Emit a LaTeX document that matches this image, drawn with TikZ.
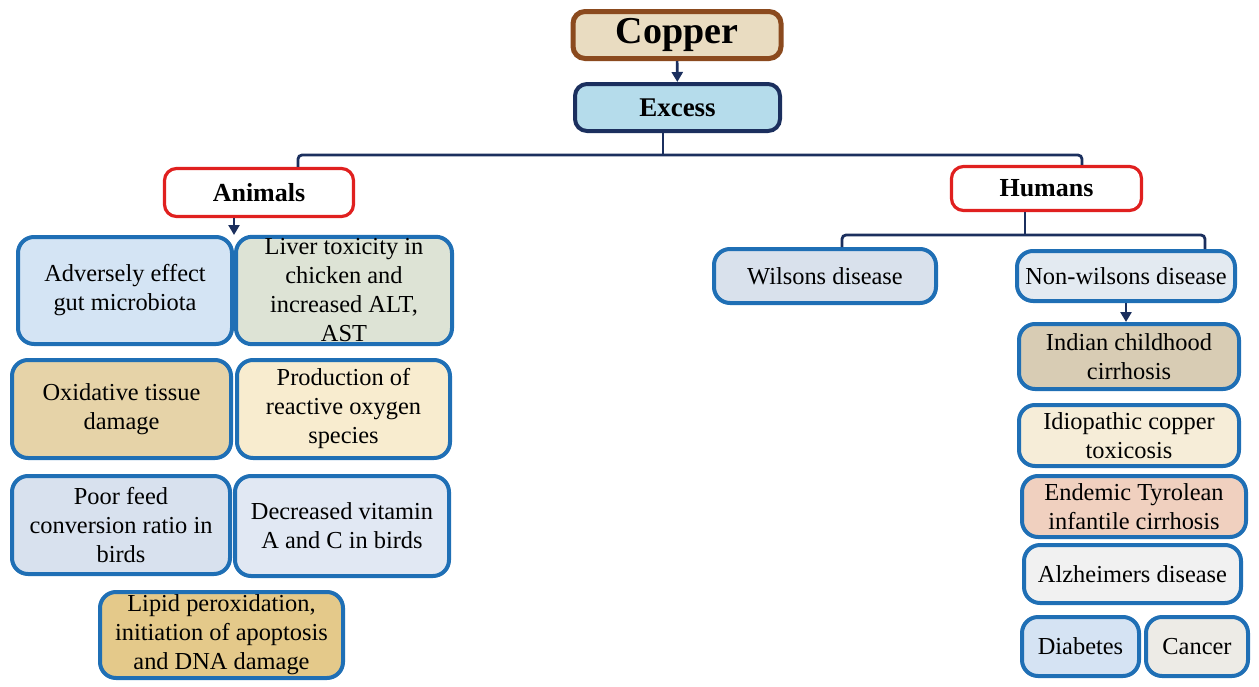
\documentclass[tikz,border=0pt]{standalone}
\usepackage{fontspec}
\setmainfont{Liberation Serif}
\usepackage{tikz}
\usetikzlibrary{arrows.meta, calc, positioning}
\definecolor{navy}{HTML}{1B2F5E}
\definecolor{boxblue}{HTML}{1F6FB5}
\definecolor{boxred}{HTML}{E0201F}
\definecolor{boxbrown}{HTML}{8B4A1E}
\tikzset{
    effect/.style={draw=boxblue, line width=2pt, rounded corners=8pt, align=center,
        inner sep=1pt, font=\fontsize{12.2}{14.5}\selectfont},
    group/.style={draw=boxred, line width=1.6pt, fill=white, rounded corners=6pt,
        font=\fontsize{13}{15}\selectfont\bfseries},
    link/.style={draw=navy, line width=1.4pt, rounded corners=2pt},
    arr/.style={draw=navy, line width=1.3pt, -{Triangle[length=5pt, width=5.5pt]}}
}
% box at pixel centre with pixel size
\newcommand{\effectbox}[6]{
    \node[effect, fill=#4, minimum width=#5*0.5pt-2pt, minimum height=#6*0.5pt-2pt] (#1) at (#2) {#3};
}

\begin{document}
\begin{tikzpicture}[x=0.5pt, y=-0.5pt]
                        \useasboundingbox (0,0) rectangle (1259,686);
                        % top of the tree
                        \node[draw=boxbrown, line width=2.5pt, fill={rgb,255:red,233;green,220;blue,193},
                            rounded corners=6pt, minimum width=104pt, minimum height=23.5pt,
                            font=\fontsize{19}{22}\selectfont\bfseries] (copper) at (677,35) {Copper};
                        \node[draw=navy, line width=2pt, fill={rgb,255:red,181;green,220;blue,235},
                            rounded corners=6pt, minimum width=102.5pt, minimum height=23.5pt,
                            font=\fontsize{13.5}{16}\selectfont\bfseries] (excess) at (677.5,107.5) {Excess};
                        \node[group, minimum width=94.5pt, minimum height=24pt] (animals) at (259,192.5) {Animals};
                        \node[group, minimum width=95pt, minimum height=22pt] (humans) at (1046.5,188.5) {Humans};
                        % animals
                        \effectbox{gut}{125,290.5}{Adversely effect\\gut microbiota}{{rgb,255:red,212;green,228;blue,244}}{218}{111}
                        \effectbox{liver}{344,290.5}{Liver toxicity in\\chicken and\\increased ALT,\\AST}{{rgb,255:red,221;green,227;blue,213}}{220}{111}
                        \effectbox{oxid}{121.5,409}{Oxidative tissue\\damage}{{rgb,255:red,230;green,211;blue,168}}{223}{102}
                        \effectbox{ros}{343.5,409}{Production of\\reactive oxygen\\species}{{rgb,255:red,248;green,236;blue,207}}{217}{102}
                        \effectbox{feed}{121,525}{Poor feed\\conversion ratio in\\birds}{{rgb,255:red,216;green,225;blue,238}}{222}{102}
                        \effectbox{vitamin}{342,526}{Decreased vitamin\\A and C in birds}{{rgb,255:red,225;green,232;blue,243}}{218}{104}
                        \effectbox{lipid}{221.5,635}{Lipid peroxidation,\\initiation of apoptosis\\and DNA damage}{{rgb,255:red,228;green,201;blue,138}}{247}{90}
                        % humans
                        \effectbox{wilson}{825,276}{Wilsons disease}{{rgb,255:red,217;green,225;blue,236}}{226}{58}
                        \effectbox{nonwilson}{1126,276}{Non-wilsons disease}{{rgb,255:red,227;green,234;blue,241}}{222}{54}
                        \effectbox{indian}{1129,356.5}{Indian childhood\\cirrhosis}{{rgb,255:red,216;green,204;blue,180}}{224}{69}
                        \effectbox{idio}{1129,435.5}{Idiopathic copper\\toxicosis}{{rgb,255:red,246;green,237;blue,216}}{224}{65}
                        \effectbox{tyrol}{1134,506.5}{Endemic Tyrolean\\infantile cirrhosis}{{rgb,255:red,240;green,208;blue,191}}{228}{65}
                        \effectbox{alz}{1132.5,574}{Alzheimers disease}{{rgb,255:red,241;green,241;blue,241}}{221}{62}
                        \effectbox{diab}{1080.5,646.5}{Diabetes}{{rgb,255:red,213;green,227;blue,243}}{121}{63}
                        \effectbox{cancer}{1197,646.5}{Cancer}{{rgb,255:red,237;green,235;blue,230}}{106}{63}
                        % connectors
                        \coordinate (split) at (663,155);
                        \coordinate (toanimals) at (298,155);
                        \coordinate (tohumans) at (1082,155);
                        \coordinate (hsplit) at (1025,235);
                        \coordinate (towilson) at (842,235);
                        \coordinate (tononwilson) at (1205,235);
                        \draw[arr] (copper) -- (excess);
                        \draw[link] (excess.south -| split) -- (split);
                        \draw[link] (toanimals |- animals.north) -- (toanimals) -- (tohumans) -- (tohumans |- humans.north);
                        \draw[link] (humans.south -| hsplit) -- (hsplit);
                        \draw[link] (towilson |- wilson.north) -- (towilson) -- (tononwilson) -- (tononwilson |- nonwilson.north);
                        \draw[arr] (gut.north east |- animals.south) -- (gut.north east);
                        \draw[arr] (nonwilson.south) -- (nonwilson.south |- indian.north);
                    \end{tikzpicture}
\end{document}
